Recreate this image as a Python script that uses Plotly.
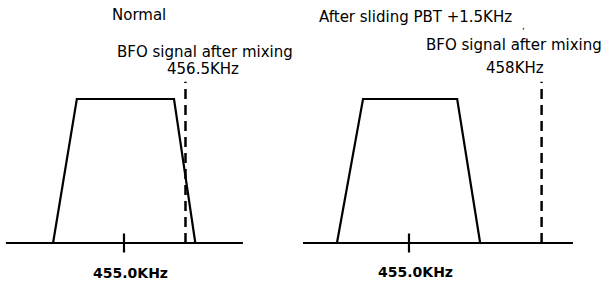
import plotly.graph_objects as go

# ---- data (kHz / relative level) ----
panel_titles = ["Normal", "After sliding PBT +1.5KHz"]
bfo_caption = "BFO signal after mixing"
bfo_labels = ["456.5KHz", "458KHz"]
bfo_freqs = [456.5, 458.0]
center_freq = 455.0
center_label = "455.0KHz"
filter_level = [0, 1, 1, 0]
filter_freq_normal = [453.27, 453.85, 456.22, 456.74]
filter_freq_shifted = [453.37, 453.96, 456.09, 456.61]
baseline_normal = [452.12, 457.90]
baseline_shifted = [452.60, 458.71]
bfo_top = 1.12
tick_half = 0.066

W, H = 606, 285
FONT = "DejaVu Sans"

def px(x):
    return x / W

def py(y):
    return 1 - y / H

fig = go.Figure()

panels = [
    ("x", filter_freq_normal, baseline_normal, bfo_freqs[0]),
    ("x2", filter_freq_shifted, baseline_shifted, bfo_freqs[1]),
]
for xa, ff, bl, bfo in panels:
    # baseline
    fig.add_trace(go.Scatter(x=bl, y=[0, 0], mode="lines", xaxis=xa, yaxis="y",
                             line=dict(color="black", width=2.2), hoverinfo="skip"))
    # filter passband
    fig.add_trace(go.Scatter(x=ff, y=filter_level, mode="lines", xaxis=xa, yaxis="y",
                             line=dict(color="black", width=2.2), hoverinfo="skip"))
    # center tick
    fig.add_trace(go.Scatter(x=[center_freq, center_freq], y=[-tick_half, tick_half],
                             mode="lines", xaxis=xa, yaxis="y",
                             line=dict(color="black", width=2.2), hoverinfo="skip"))
    # BFO dashed marker
    fig.add_trace(go.Scatter(x=[bfo, bfo], y=[0, bfo_top], mode="lines", xaxis=xa, yaxis="y",
                             line=dict(color="black", width=2.5, dash="10px,6px"),
                             hoverinfo="skip"))

# axes: left panel 41 px/kHz, right panel 44.2 px/kHz
fig.update_layout(
    width=W, height=H,
    margin=dict(l=0, r=0, t=0, b=0),
    paper_bgcolor="white", plot_bgcolor="white",
    showlegend=False,
    xaxis=dict(domain=[0, 0.5], range=[451.976, 459.366], visible=False),
    xaxis2=dict(domain=[0.5, 1], range=[452.602, 459.457], visible=False, anchor="y"),
    yaxis=dict(domain=[0, 1], range=[-0.2917, 1.6875], visible=False),
)

def txt(text, x, y, size=15, bold=False):
    fig.add_annotation(
        x=px(x), y=py(y), xref="paper", yref="paper",
        text=f"<b>{text}</b>" if bold else text,
        showarrow=False, xanchor="center", yanchor="middle",
        font=dict(family=FONT, size=size, color="black"),
    )

txt(panel_titles[0], 138.5, 15)
txt(panel_titles[1], 415, 17)
txt(bfo_caption, 205, 52)
txt(bfo_labels[0], 202.5, 69)
txt(bfo_caption, 513.5, 45)
txt(bfo_labels[1], 515, 68)
txt(center_label, 130, 273, size=14, bold=True)
txt(center_label, 415.5, 272, size=14, bold=True)
txt(",", 523, 26, size=9)

fig.write_html(
    "out.html",
    config={"displayModeBar": False, "staticPlot": True},
    post_script="document.body.style.margin='0';document.body.style.overflow='hidden';",
)
